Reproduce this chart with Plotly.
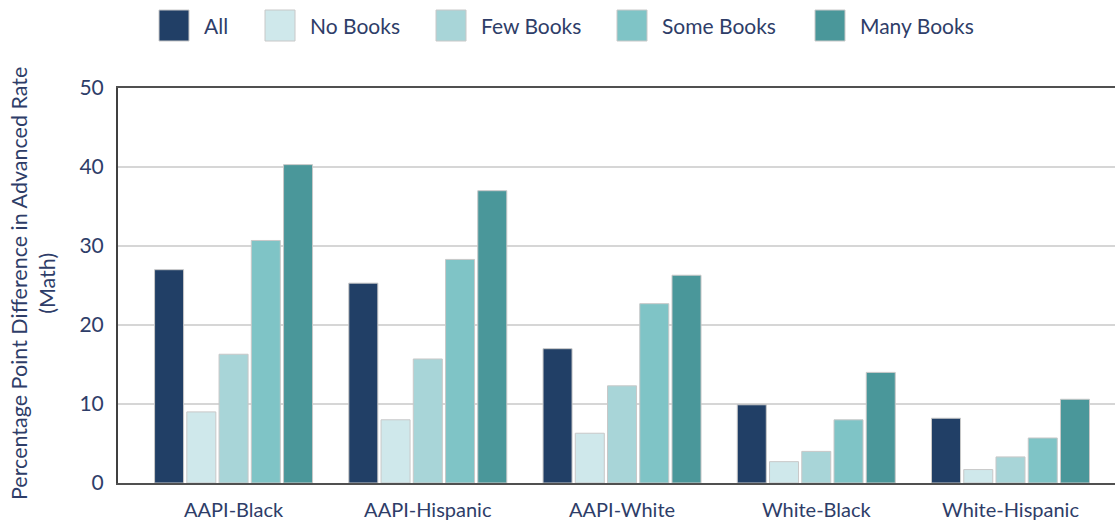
import plotly.graph_objects as go

# Racial/ethnic gap pairs shown along the x axis
categories = ["AAPI-Black", "AAPI-Hispanic", "AAPI-White", "White-Black", "White-Hispanic"]

# Percentage point difference in advanced rate (math), by home book count
all_students = [27.0, 25.3, 17.0, 9.9, 8.2]
no_books = [9.0, 8.0, 6.3, 2.7, 1.7]
few_books = [16.3, 15.7, 12.3, 4.0, 3.3]
some_books = [30.7, 28.3, 22.7, 8.0, 5.7]
many_books = [40.3, 37.0, 26.3, 14.0, 10.6]

series_names = ["All", "No Books", "Few Books", "Some Books", "Many Books"]
series_values = [all_students, no_books, few_books, some_books, many_books]
series_colors = ["#213f66", "#cfe8eb", "#a8d5d8", "#7fc4c6", "#4a979a"]

y_ticks = [0, 10, 20, 30, 40, 50]

TEXT_COLOR = "#2e3d68"
FONT = "Lato"

W, H = 1115, 522
M_L, M_R, M_T, M_B = 118, 0, 88, 39
PLOT_H = H - M_T - M_B
PLOT_W = W - M_L - M_R


def px_x(px):
    return (px - M_L) / PLOT_W


def px_y(py):
    return (H - M_B - py) / PLOT_H


fig = go.Figure()
for name, vals, color in zip(series_names, series_values, series_colors):
    fig.add_trace(go.Bar(
        name=name,
        x=categories,
        y=vals,
        marker=dict(color=color, line=dict(color="#c8c8c8", width=1)),
        showlegend=False,
        hovertemplate="%{x}<br>" + name + ": %{y}<extra></extra>",
    ))

# Custom legend with tall swatches across the top
legend_left_px = [159, 265, 436, 617, 815]
swatch_w, swatch_top, swatch_bot = 30, 10, 41
shapes = []
annotations = []
for name, color, lx in zip(series_names, series_colors, legend_left_px):
    shapes.append(dict(
        type="rect", xref="paper", yref="paper",
        x0=px_x(lx), x1=px_x(lx + swatch_w),
        y0=px_y(swatch_bot), y1=px_y(swatch_top),
        fillcolor=color, line=dict(color="#c8c8c8", width=1),
    ))
    annotations.append(dict(
        text=name, xref="paper", yref="paper",
        x=px_x(lx + swatch_w + 13), y=px_y((swatch_top + swatch_bot) / 2),
        xanchor="left", yanchor="middle", showarrow=False,
        font=dict(family=FONT, size=21, color=TEXT_COLOR),
    ))

# Rotated y-axis title
annotations.append(dict(
    text="Percentage Point Difference in Advanced Rate<br>(Math)",
    xref="paper", yref="paper", x=px_x(33), y=px_y(284),
    xanchor="center", yanchor="middle", textangle=-90, showarrow=False,
    font=dict(family=FONT, size=21.5, color=TEXT_COLOR),
))

fig.update_layout(
    width=W, height=H,
    margin=dict(l=M_L, r=M_R, t=M_T, b=M_B, pad=0),
    paper_bgcolor="white", plot_bgcolor="white",
    barmode="group", bargap=0.17, bargroupgap=0.1,
    font=dict(family=FONT, color=TEXT_COLOR),
    shapes=shapes, annotations=annotations,
    showlegend=False,
)

fig.update_xaxes(
    type="category",
    range=[-0.595, 4.538],
    showline=True, linecolor="#505050", linewidth=2, mirror=True,
    showgrid=False, ticks="", ticklabelstandoff=8,
    tickfont=dict(family=FONT, size=20, color=TEXT_COLOR),
)
fig.update_yaxes(
    range=[0, 50], tickvals=y_ticks,
    showline=True, linecolor="#404040", linewidth=2,
    showgrid=True, gridcolor="#d6d6d6", gridwidth=2,
    zeroline=False, ticks="", ticklabelstandoff=8,
    tickfont=dict(family=FONT, size=21, color=TEXT_COLOR),
)

fig.write_html("out.html")
